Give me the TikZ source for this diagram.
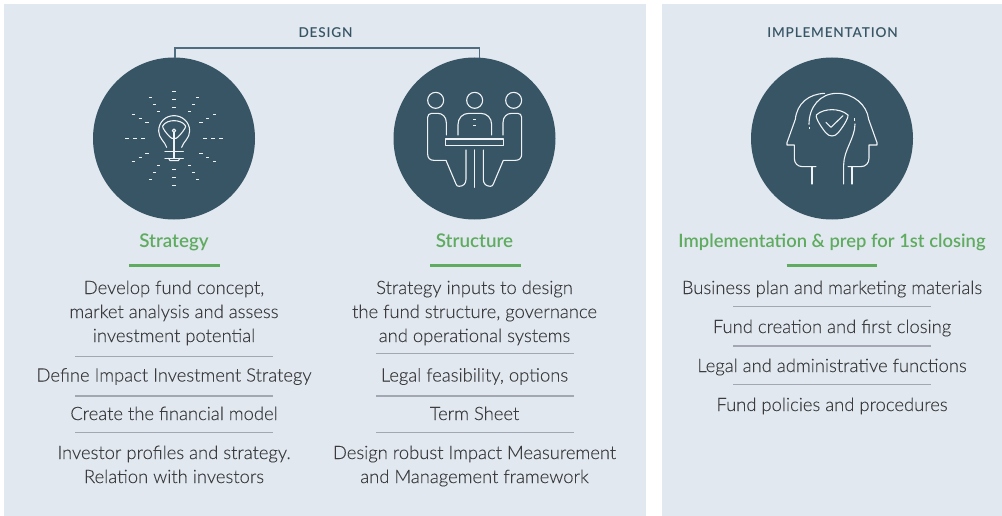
\documentclass[tikz,border=0pt]{standalone}
\usepackage{fontspec}
\setmainfont[FakeBold=0.12]{Lato Light}
\newfontfamily\headfont{Lato Semibold}
\newfontfamily\capfont[LetterSpace=6]{Lato Semibold}
\definecolor{panel}{HTML}{E1E8F0}
\definecolor{discc}{HTML}{375565}
\definecolor{brack}{HTML}{4F6D80}
\definecolor{grn}{HTML}{5FAB5F}
\definecolor{rulec}{HTML}{A3A7B2}
\definecolor{txt}{HTML}{3C3C3F}
\definecolor{ico}{HTML}{F0F3F6}
\tikzset{
 panelbox/.style={fill=panel,draw=none},
 discn/.style={circle,fill=discc,draw=none,minimum size=162pt,inner sep=0pt},
 body/.style={text=txt,font=\fontsize{18.4}{24}\selectfont,inner sep=0pt,anchor=base},
 greenhead/.style={text=grn,font=\headfont\fontsize{18.8}{24}\selectfont,inner sep=0pt,anchor=base},
 greenlong/.style={text=grn,font=\headfont\fontsize{18.4}{24}\selectfont,inner sep=0pt,anchor=base},
 captitle/.style={text=discc,font=\capfont\fontsize{13.6}{16}\selectfont,inner sep=0pt,anchor=base},
 greenrule/.style={draw=grn,line width=2.6pt},
 grayrule/.style={draw=rulec,line width=1.1pt},
 icon/.style={draw=ico,line width=1.1pt,line cap=round,line join=round},
 tick/.style={draw=ico,line width=1pt},
}
\begin{document}
\begin{tikzpicture}[x=1pt,y=-1pt]
\useasboundingbox (0,0) rectangle (1002,516);
\fill[white] (0,0) rectangle (1002,516);
\fill[panelbox] (4,4) rectangle (646,516);
\fill[panelbox] (662,4) rectangle (1002,516);
% discs
\node[discn] (c1) at (174,138.5) {};
\node[discn] (c2) at (474.5,138.5) {};
\node[discn] (c3) at (832,138.5) {};
% titles and bracket
\node[captitle] (design) at (325.5,37.3) {DESIGN};
\node[captitle] (impl) at (832.5,37.3) {IMPLEMENTATION};
\coordinate (b1) at (175,58);
\coordinate (b2) at (479.3,58);
\coordinate (btop) at (327,48);
\draw[draw=brack,line width=1.2pt] (b1) |- (btop) -| (b2);
% green heads
\node[greenhead] (h1) at (174,247.5) {Strategy};
\node[greenhead] (h2) at (474.5,247.5) {Structure};
\node[greenlong] (h3) at (832,247.5) {Implementation \& prep for 1st closing};
\coordinate (g1a) at (129,265.7); \coordinate (g1b) at (219.7,265.7);
\coordinate (g2a) at (430,265.7); \coordinate (g2b) at (520.5,265.7);
\coordinate (g3a) at (786.5,265.7); \coordinate (g3b) at (877.3,265.7);
\draw[greenrule] (g1a) -- (g1b);
\draw[greenrule] (g2a) -- (g2b);
\draw[greenrule] (g3a) -- (g3b);
% column 1
\node[body] (a1) at (174,294) {Develop fund concept,};
\node[body] (a2) at (174,318) {market analysis and assess};
\node[body] (a3) at (174,342) {investment potential};
\node[body] (a4) at (174,381.5) {Define Impact Investment Strategy};
\node[body] (a5) at (174,420) {Create the financial model};
\node[body] (a6) at (174,459) {Investor profiles and strategy.};
\node[body] (a7) at (174,483) {Relation with investors};
% column 2
\node[body] (b1t) at (474.5,294) {Strategy inputs to design};
\node[body] (b2t) at (474.5,318) {the fund structure, governance};
\node[body] (b3t) at (474.5,342) {and operational systems};
\node[body] (b4t) at (474.5,381.5) {Legal feasibility, options};
\node[body] (b5t) at (474.5,420) {Term Sheet};
\node[body] (b6t) at (474.5,459) {Design robust Impact Measurement};
\node[body] (b7t) at (474.5,483) {and Management framework};
% column 3
\node[body] (d1) at (832,294) {Business plan and marketing materials};
\node[body] (d2) at (832,333) {Fund creation and first closing};
\node[body] (d3) at (832,372) {Legal and administrative functions};
\node[body] (d4) at (832,411) {Fund policies and procedures};
% separators
\draw[grayrule] (75,356.7) -- (273,356.7);
\draw[grayrule] (75,396) -- (273,396);
\draw[grayrule] (75,432.5) -- (273,432.5);
\draw[grayrule] (376,353.5) -- (574,353.5);
\draw[grayrule] (376,396) -- (574,396);
\draw[grayrule] (376,432.5) -- (574,432.5);
\draw[grayrule] (733,306.7) -- (931,306.7);
\draw[grayrule] (733,346) -- (931,346);
\draw[grayrule] (733,384.5) -- (931,384.5);
% bulb icon
\begin{scope}[shift={(85,50)},x=0.3333pt,y=-0.3333pt]
\foreach \a in {0,30,...,330}{
 \foreach \r in {93,117,141}{
  \pgfmathsetmacro\yy{3*(floor((265+\r*sin(\a))/3)+0.5)}
  \draw[tick] ({267+\r*cos(\a)-5},\yy) -- ++(10,0);
 }
}
\draw[icon] (245,292) .. controls (240,275) and (221,265) .. (221,243) .. controls (221,215) and (243,197) .. (267,197) .. controls (291,197) and (314,215) .. (314,243) .. controls (314,265) and (295,275) .. (290,292);
\draw[icon] (233,228) .. controls (240,216) and (255,212) .. (267,212) .. controls (279,212) and (295,216) .. (302,228) .. controls (303,234) and (288,252) .. (280,260) .. controls (274,268) and (260,268) .. (254,260) .. controls (246,252) and (231,234) .. (233,228) -- cycle;
\draw[icon] (267,242) circle (5);
\draw[icon] (267,247) -- (267,325);
\draw[icon] (240,304) -- (295,304);
\draw[icon] (240,325) -- (295,325);
\draw[icon] (251,325) -- (255,332) -- (280,332) -- (285,325);
\end{scope}
% meeting icon
\begin{scope}[shift={(385,50)},x=0.3333pt,y=-0.3333pt]
\draw[icon] (152,151) circle (24);
\draw[icon] (269,151) circle (24);
\draw[icon] (386,151) circle (24);
\draw[icon] (184,255) -- (184,218) .. controls (184,200) and (172,190) .. (158,190) -- (140,190) .. controls (133,190) and (128,195) .. (128,202) -- (128,313) .. controls (128,324) and (135,331) .. (146,331) -- (183,331) -- (213,402) .. controls (215,407) and (217,409) .. (222,409) .. controls (235,409) and (243,401) .. (243,388) -- (243,300);
\draw[icon] (354,255) -- (354,218) .. controls (354,200) and (366,190) .. (380,190) -- (398,190) .. controls (405,190) and (410,195) .. (410,202) -- (410,313) .. controls (410,324) and (403,331) .. (392,331) -- (355,331) -- (325,402) .. controls (323,407) and (321,409) .. (316,409) .. controls (303,409) and (295,401) .. (295,388) -- (295,300);
\draw[icon] (219,255) -- (219,224) .. controls (219,204) and (233,190) .. (252,190) -- (287,190) .. controls (306,190) and (320,204) .. (320,224) -- (320,255);
\draw[tick] (265,209) -- (274,209);
\draw[tick] (265,227) -- (274,227);
\draw[icon,line width=1.2pt] (182,267) rectangle (356,287);
\draw[icon] (269,300) -- (269,412);
\end{scope}
% heads icon
\begin{scope}[shift={(742,50)},x=0.3333pt,y=-0.3333pt]
\draw[icon] (248,130) .. controls (200,132) and (165,160) .. (160,208) -- (135,278) -- (135,285) -- (157,285) -- (157,325) .. controls (157,340) and (167,350) .. (182,350) -- (222,350);
\draw[icon] (210,350) -- (210,402);
\draw[icon] (201,223) .. controls (201,170) and (235,130) .. (285,130) .. controls (335,130) and (375,165) .. (380,208) -- (405,278) -- (405,285) -- (381,285) -- (381,325) .. controls (381,340) and (371,350) .. (356,350) -- (318,350);
\draw[icon] (330,350) -- (330,402);
\draw[tick] (201,231) -- (201,238);
\draw[tick] (339,205) -- (339,212);
\draw[icon] (339,222) .. controls (339,265) and (305,300) .. (305,345) -- (305,402);
\draw[icon] (223,195) .. controls (235,183) and (255,179) .. (270,179) .. controls (285,179) and (305,183) .. (318,195) .. controls (320,205) and (300,235) .. (288,249) .. controls (278,261) and (262,261) .. (252,249) .. controls (240,235) and (220,205) .. (223,195) -- cycle;
\draw[icon] (252,217) -- (267,232) -- (303,197);
\end{scope}
\end{tikzpicture}
\end{document}
